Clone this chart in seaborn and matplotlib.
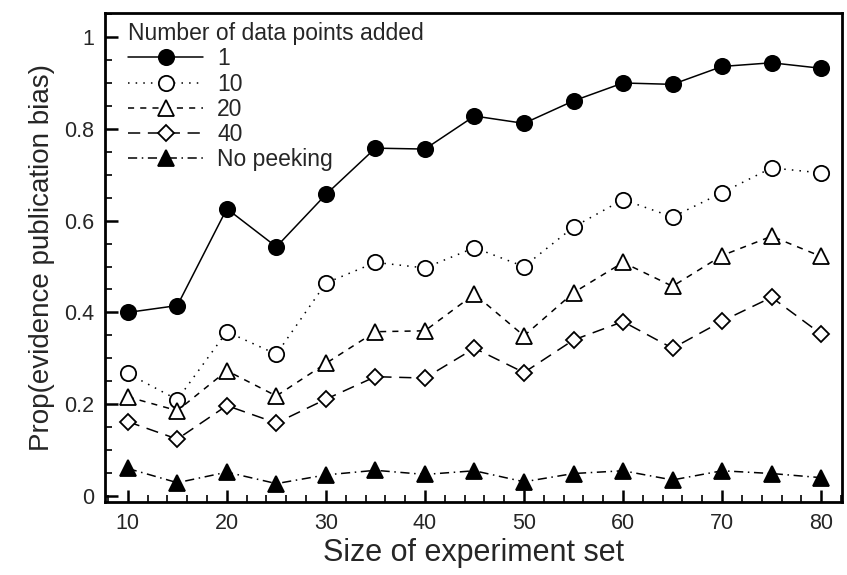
import numpy as np
import pandas as pd
import matplotlib.pyplot as plt
import seaborn as sns
from matplotlib.ticker import MultipleLocator

# Data
sizes = [10, 15, 20, 25, 30, 35, 40, 45, 50, 55, 60, 65, 70, 75, 80]
added_1 = [0.400, 0.415, 0.626, 0.543, 0.657, 0.758, 0.756, 0.828, 0.812, 0.861, 0.900, 0.897, 0.936, 0.944, 0.932]
added_10 = [0.267, 0.210, 0.358, 0.309, 0.464, 0.509, 0.497, 0.541, 0.500, 0.586, 0.646, 0.608, 0.661, 0.715, 0.704]
added_20 = [0.216, 0.186, 0.273, 0.218, 0.289, 0.358, 0.360, 0.440, 0.349, 0.443, 0.509, 0.457, 0.524, 0.566, 0.522]
added_40 = [0.162, 0.124, 0.197, 0.159, 0.211, 0.260, 0.257, 0.322, 0.269, 0.340, 0.380, 0.322, 0.381, 0.433, 0.353]
no_peek = [0.060, 0.029, 0.052, 0.027, 0.046, 0.056, 0.047, 0.055, 0.031, 0.049, 0.055, 0.035, 0.055, 0.049, 0.040]

labels = ['1', '10', '20', '40', 'No peeking']
series = [added_1, added_10, added_20, added_40, no_peek]

sns.set_theme(style='white')
plt.rcParams['font.family'] = ['Liberation Sans', 'DejaVu Sans']

fig, ax = plt.subplots(figsize=(8.47, 5.75), dpi=100)

# marker, face colour, line style, marker size
styles = [
    ('o', 'black', '-', 11),
    ('o', 'white', (0, (1, 4)), 11),
    ('^', 'white', (0, (4, 4)), 11),
    ('D', 'white', (0, (8, 5)), 8.5),
    ('^', 'black', (0, (6, 3, 1, 3)), 11),
]

for lab, vals, (mk, fc, ls, ms) in zip(labels, series, styles):
    df = pd.DataFrame({'size': sizes, 'prop': vals})
    sns.lineplot(data=df, x='size', y='prop', ax=ax, color='black', linewidth=1.1,
                 marker=mk, markersize=ms, markerfacecolor=fc, markeredgecolor='black',
                 markeredgewidth=1.3, linestyle=ls, label=lab)

ax.set_xlim(7.7, 82.1)
ax.set_ylim(-0.013, 1.052)
ax.xaxis.set_major_locator(MultipleLocator(10))
ax.xaxis.set_minor_locator(MultipleLocator(2))
ax.yaxis.set_major_locator(MultipleLocator(0.2))
ax.yaxis.set_minor_locator(MultipleLocator(0.05))
ax.set_yticks([0, 0.2, 0.4, 0.6, 0.8, 1.0])
ax.set_yticklabels(['0', '0.2', '0.4', '0.6', '0.8', '1'])

ax.tick_params(which='major', direction='in', length=9, width=1.8, labelsize=15.5, pad=8, color='black')
ax.tick_params(which='minor', direction='in', length=5, width=1.2, color='black')
ax.tick_params(axis='both', which='both', bottom=True, left=True, top=False, right=False)

for sp in ax.spines.values():
    sp.set_color('black')
    sp.set_linewidth(2)

ax.set_xlabel('Size of experiment set', fontsize=22, labelpad=3)
ax.set_ylabel('Prop(evidence publication bias)', fontsize=20, labelpad=6)

leg = ax.legend(title='Number of data points added', loc='upper left', frameon=False,
                fontsize=16.5, title_fontsize=16.5, handlelength=3.3, borderaxespad=0.0,
                labelspacing=0.1, handletextpad=0.6, borderpad=0.0,
                bbox_to_anchor=(0.031, 0.982))
leg._legend_box.align = 'left'

fig.subplots_adjust(left=0.124, right=0.994, top=0.977, bottom=0.127)
fig.savefig('out.png', dpi=100)
